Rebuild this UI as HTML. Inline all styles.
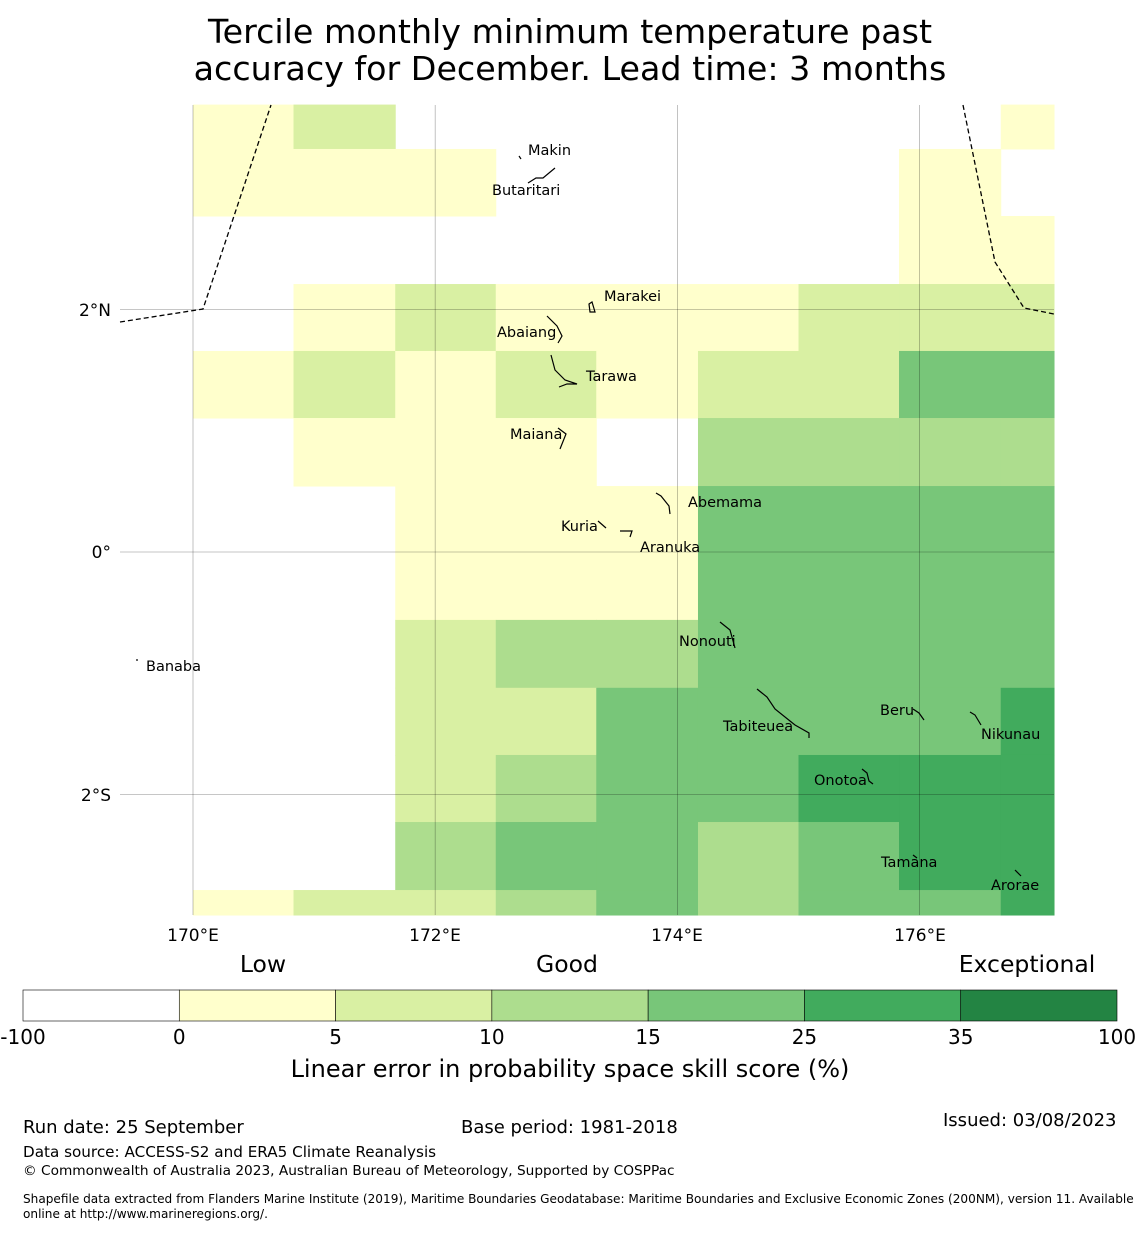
<!DOCTYPE html>
<html><head><meta charset="utf-8"><style>
body{margin:0;background:#fff;width:1140px;height:1230px;overflow:hidden;font-family:"Liberation Sans","DejaVu Sans",sans-serif}
svg text{font-family:"DejaVu Sans","Liberation Sans",sans-serif}
</style></head><body>
<svg id="chart" width="1140" height="1230" xmlns="http://www.w3.org/2000/svg">
<text x="570" y="43" font-size="33.3" text-anchor="middle">Tercile monthly minimum temperature past</text>
<text x="570" y="80" font-size="33.3" text-anchor="middle">accuracy for December. Lead time: 3 months</text>
<g id="cells"></g>
<g id="grid"></g>
<g fill="none" stroke="#000" stroke-width="1.3" stroke-dasharray="5,3">
<polyline points="120,322 203,309 271,105"/><polyline points="963,105 995,262 1024,308 1054,314"/></g>
<g fill="none" stroke="#000" stroke-width="1.2">
<path d="M519,156 l2,3"/><path d="M528,183 l8,-5 l7,0 l12,-10"/><path d="M589,304 l3,-2 l3,10 l-5,0z"/>
<path d="M547,316 l10,10 l5,10 l-4,7"/><path d="M551,355 l4,15 l10,10 l12,4 l-10,0 l-8,3"/>
<path d="M558,428 l8,6 l-6,15"/><path d="M656,493 l5,3 l8,10 l1,8"/><path d="M598,521 l8,7"/><path d="M620,531 l12,0 l-2,6"/>
<path d="M720,622 l10,8 l5,18"/><path d="M757,689 l10,8 l8,12 l20,16 l14,8 l0,5"/><path d="M913,709 l6,4 l5,7"/>
<path d="M970,712 l5,3 l6,10"/><path d="M862,769 l5,4 l2,8 l4,3"/><path d="M913,855 l4,3"/><path d="M1015,870 l6,6"/><path d="M136,660 l2,0"/></g>
<g font-size="14.5" fill="#000">
<text x="528" y="155">Makin</text><text x="492" y="195">Butaritari</text><text x="604" y="301">Marakei</text>
<text x="497" y="337">Abaiang</text><text x="586" y="381">Tarawa</text><text x="510" y="439">Maiana</text>
<text x="688" y="507">Abemama</text><text x="561" y="531">Kuria</text><text x="640" y="552">Aranuka</text>
<text x="679" y="646">Nonouti</text><text x="146" y="671">Banaba</text><text x="723" y="731">Tabiteuea</text>
<text x="880" y="715">Beru</text><text x="981" y="739">Nikunau</text><text x="814" y="785">Onotoa</text>
<text x="881" y="867">Tamana</text><text x="991" y="890">Arorae</text></g>
<g font-size="17">
<text x="111" y="316" text-anchor="end">2°N</text><text x="111" y="558" text-anchor="end">0°</text><text x="111" y="801" text-anchor="end">2°S</text>
<text x="193" y="941" text-anchor="middle">170°E</text><text x="435" y="941" text-anchor="middle">172°E</text>
<text x="677" y="941" text-anchor="middle">174°E</text><text x="920" y="941" text-anchor="middle">176°E</text></g>
<g>
<g id="cbar"></g>
<text x="263" y="972" font-size="23.5" text-anchor="middle">Low</text><text x="567" y="972" font-size="23.5" text-anchor="middle">Good</text><text x="1027" y="972" font-size="23.5" text-anchor="middle">Exceptional</text>
<text x="570" y="1077" font-size="24" text-anchor="middle">Linear error in probability space skill score (%)</text></g>
<g fill="#000">
<text x="23" y="1133" font-size="18">Run date: 25 September</text><text x="461" y="1133" font-size="18">Base period: 1981-2018</text>
<text x="943" y="1126" font-size="18">Issued: 03/08/2023</text>
<text x="23" y="1157" font-size="15.2">Data source: ACCESS-S2 and ERA5 Climate Reanalysis</text>
<text x="23" y="1175" font-size="13.7">© Commonwealth of Australia 2023, Australian Bureau of Meteorology, Supported by COSPPac</text>
<text x="23" y="1203" font-size="12.1">Shapefile data extracted from Flanders Marine Institute (2019), Maritime Boundaries Geodatabase: Maritime Boundaries and Exclusive Economic Zones (200NM), version 11. Available</text>
<text x="23" y="1218" font-size="12.1">online at http://www.marineregions.org/.</text></g>
</svg>
<script>
// cell grid: rows from north to south, columns west to east; negative = no skill
const rowLat0 = [3.69, 3.324, 2.771, 2.21, 1.658, 1.105, 0.544, -0.008, -0.56, -1.12, -1.674, -2.227, -2.788];
const rowLatSize = [0.366, 0.553, 0.561, 0.552, 0.553, 0.561, 0.552, 0.552, 0.56, 0.554, 0.553, 0.561, 0.206];
const colLon0 = [170, 170.83, 171.67, 172.5, 173.33, 174.17, 175, 175.83, 176.67];
const colLonSize = [0.83, 0.84, 0.83, 0.83, 0.84, 0.83, 0.83, 0.84, 0.44];
const skillRow0 = [2,7,-5,-5,-5,-5,-5,-5,2];
const skillRow1 = [2,2,2,-5,-5,-5,-5,2,-5];
const skillRow2 = [-5,-5,-5,-5,-5,-5,-5,2,2];
const skillRow3 = [-5,2,7,2,2,2,7,7,7];
const skillRow4 = [2,7,2,7,2,7,7,20,20];
const skillRow5 = [-5,2,2,2,-5,12,12,12,12];
const skillRow6 = [-5,-5,2,2,2,20,20,20,20];
const skillRow7 = [-5,-5,2,2,2,20,20,20,20];
const skillRow8 = [-5,-5,7,12,12,20,20,20,20];
const skillRow9 = [-5,-5,7,7,20,20,20,20,30];
const skillRow10 = [-5,-5,7,12,20,20,30,30,30];
const skillRow11 = [-5,-5,12,20,20,12,20,30,30];
const skillRow12 = [2,7,7,12,20,12,20,20,30];
const skillRows=[skillRow0,skillRow1,skillRow2,skillRow3,skillRow4,skillRow5,skillRow6,skillRow7,skillRow8,skillRow9,skillRow10,skillRow11,skillRow12];
const bounds=[-100,0,5,10,15,25,35,100];
const boundLabels=["-100","0","5","10","15","25","35","100"];
const colors=["#ffffff","#ffffcc","#d9f0a3","#addd8e","#78c679","#41ab5d","#238443"];
const lonTicks=[170,172,174,176], latTicks=[2,0,-2];
const NS="http://www.w3.org/2000/svg";
const xS=lon=>193+(lon-170)*121.1;
const yS=lat=>552-lat*121.25;
function colorOf(v){for(let i=bounds.length-2;i>=0;i--)if(v>=bounds[i])return colors[i];return colors[0];}
const cells=document.getElementById('cells');
skillRows.forEach((row,r)=>row.forEach((v,c)=>{
 if(v<0)return;
 const el=document.createElementNS(NS,'rect');
 
 
 const x0=xS(colLon0[c]),x1=xS(colLon0[c]+colLonSize[c]);
 const y0=yS(rowLat0[r]),y1=yS(rowLat0[r]-rowLatSize[r]);
 el.setAttribute('x',x0);el.setAttribute('y',y0);el.setAttribute('width',x1-x0+0.5);el.setAttribute('height',y1-y0+0.5);
 el.setAttribute('fill',colorOf(v));cells.appendChild(el);
}));
const grid=document.getElementById('grid');
lonTicks.forEach(l=>{const el=document.createElementNS(NS,'line');
 
 
 el.setAttribute('x1',xS(l));el.setAttribute('x2',xS(l));el.setAttribute('y1',105);el.setAttribute('y2',915);
 el.setAttribute('stroke','#000');el.setAttribute('stroke-opacity','0.3');el.setAttribute('stroke-width','0.8');grid.appendChild(el);});
latTicks.forEach(l=>{const el=document.createElementNS(NS,'line');
 
 
 el.setAttribute('x1',120);el.setAttribute('x2',1054);el.setAttribute('y1',yS(l));el.setAttribute('y2',yS(l));
 el.setAttribute('stroke','#000');el.setAttribute('stroke-opacity','0.3');el.setAttribute('stroke-width','0.8');grid.appendChild(el);});
const cb=document.getElementById('cbar');const segW=(1117-23)/colors.length;
colors.forEach((c,i)=>{const el=document.createElementNS(NS,'rect');
 
 
 el.setAttribute('x',23+i*segW);el.setAttribute('y',990);el.setAttribute('width',segW);el.setAttribute('height',31);
 el.setAttribute('fill',c);el.setAttribute('stroke','#000');el.setAttribute('stroke-width','0.6');cb.appendChild(el);});
boundLabels.forEach((t,i)=>{const el=document.createElementNS(NS,'text');
 
 
 el.setAttribute('x',23+i*segW);el.setAttribute('y',1044);el.setAttribute('font-size','20');el.setAttribute('text-anchor','middle');
 el.textContent=t;cb.appendChild(el);});
</script>
</body></html>
